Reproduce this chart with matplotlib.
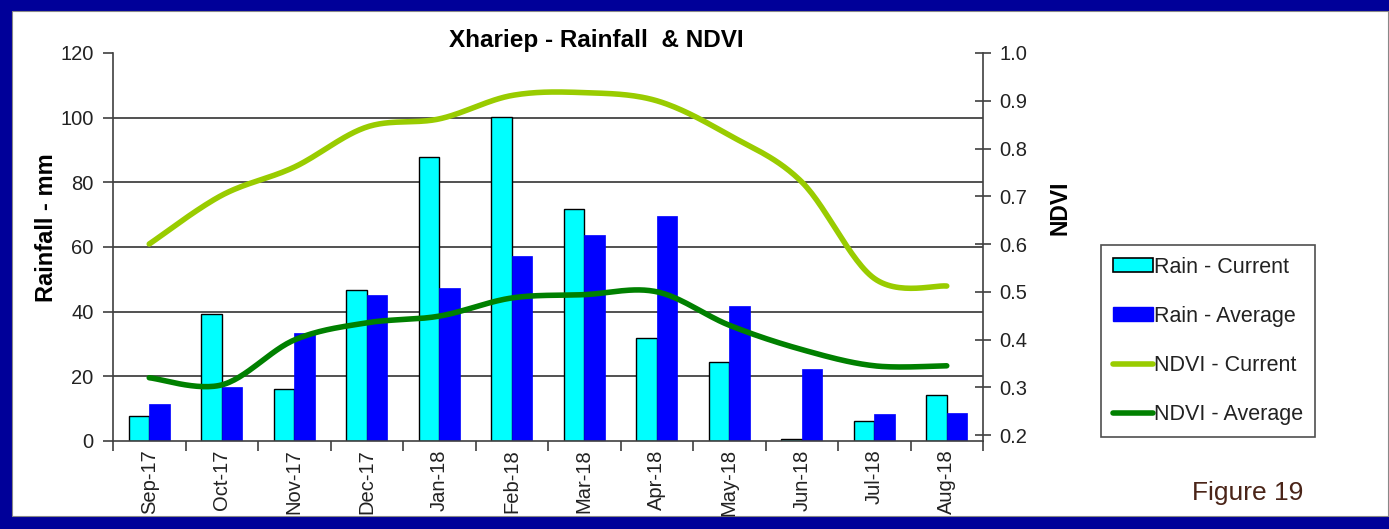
import numpy as np
import matplotlib
matplotlib.use('Agg')
import matplotlib.pyplot as plt
from matplotlib.patches import Rectangle, Patch
from matplotlib.lines import Line2D

plt.rcParams['font.family'] = ['Liberation Sans', 'DejaVu Sans']

# monthly values, Sep 2017 - Aug 2018
months = ['Sep-17', 'Oct-17', 'Nov-17', 'Dec-17', 'Jan-18', 'Feb-18',
          'Mar-18', 'Apr-18', 'May-18', 'Jun-18', 'Jul-18', 'Aug-18']
rain_current = [7.7, 39.4, 16.0, 46.8, 87.8, 100.3, 71.9, 31.8, 24.3, 0.5, 6.2, 14.2]
rain_average = [11.5, 16.7, 33.5, 45.1, 47.4, 57.2, 63.7, 69.6, 41.8, 22.2, 8.2, 8.7]
ndvi_current = [0.600, 0.702, 0.761, 0.845, 0.862, 0.911, 0.917, 0.900, 0.828, 0.730, 0.528, 0.512]
ndvi_average = [0.320, 0.305, 0.399, 0.435, 0.449, 0.487, 0.494, 0.500, 0.430, 0.379, 0.345, 0.345]

NAVY = '#000099'
AXIS = '#404040'
TEXT = '#222222'


def smooth_curve(x, y, steps=30):
    """Bezier smoothing through every point (same idea as a spreadsheet 'smoothed line')."""
    x = np.asarray(x, float)
    y = np.asarray(y, float)
    px = np.concatenate([[x[0]], x, [x[-1]]])
    py = np.concatenate([[y[0]], y, [y[-1]]])
    xs, ys = [], []
    t = np.linspace(0, 1, steps)
    for i in range(1, len(px) - 2):
        p0 = np.array([px[i], py[i]])
        p3 = np.array([px[i + 1], py[i + 1]])
        c1 = p0 + (p3 - np.array([px[i - 1], py[i - 1]])) / 6
        c2 = p3 - (np.array([px[i + 2], py[i + 2]]) - p0) / 6
        seg = ((1 - t) ** 3)[:, None] * p0 + (3 * (1 - t) ** 2 * t)[:, None] * c1 \
            + (3 * (1 - t) * t ** 2)[:, None] * c2 + (t ** 3)[:, None] * p3
        xs.append(seg[:, 0])
        ys.append(seg[:, 1])
    return np.concatenate(xs), np.concatenate(ys)


fig = plt.figure(figsize=(13.89, 5.29), dpi=100, facecolor=NAVY)
# white slide panel inside the navy frame
fig.patches.append(Rectangle((12 / 1389, 13 / 529), 1376 / 1389, 505 / 529,
                             transform=fig.transFigure, facecolor='white',
                             edgecolor='#888888', linewidth=0.8, zorder=-5))

ax = fig.add_axes([113 / 1389, 88 / 529, 870 / 1389, 388 / 529])
ax.set_facecolor('none')
x = np.arange(len(months))
w = 0.285

ax.bar(x - w / 2, rain_current, w, color='#00FFFF', edgecolor='black', linewidth=1.0,
       label='Rain - Current', zorder=2)
ax.bar(x + w / 2, rain_average, w, color='#0000FF', edgecolor='#0000FF', linewidth=0.5,
       label='Rain - Average', zorder=2)

ax.set_xlim(-0.5, len(months) - 0.5)
ax.set_ylim(0, 120)
ax.set_yticks(np.arange(0, 121, 20))
ax.yaxis.grid(True, color='#333333', linewidth=1.2)
ax.set_axisbelow(True)
grid = ax.get_ygridlines()
grid[0].set_visible(False)
grid[-1].set_visible(False)

# category boundaries carry the tick marks, labels sit at the centres
ax.set_xticks(np.arange(-0.5, len(months), 1))
ax.set_xticklabels([])
ax.set_xticks(x, minor=True)
ax.set_xticklabels(months, minor=True, rotation=90, fontsize=14.5, color=TEXT)
ax.tick_params(axis='x', which='major', direction='out', length=7, color=AXIS, width=1.2)
ax.tick_params(axis='x', which='minor', length=0, pad=6)
ax.tick_params(axis='y', direction='out', length=7, color=AXIS, width=1.2,
               labelsize=14.5, labelcolor=TEXT, pad=7)

for side in ['top', 'right']:
    ax.spines[side].set_visible(False)
for side in ['left', 'bottom']:
    ax.spines[side].set_color(AXIS)
    ax.spines[side].set_linewidth(1.2)

ax.set_ylabel('Rainfall - mm', fontsize=17, fontweight='bold', va='center')
ax.yaxis.set_label_coords(-0.076, 0.55)

ax2 = ax.twinx()
xs, ys = smooth_curve(x, ndvi_current)
ax2.plot(xs, ys, color='#99CC00', linewidth=4, solid_capstyle='round', zorder=3)
xs, ys = smooth_curve(x, ndvi_average)
ax2.plot(xs, ys, color='#008000', linewidth=4, solid_capstyle='round', zorder=3)
ax2.set_ylim(0.1875, 1.0)
ax2.set_yticks(np.arange(0.2, 1.01, 0.1))
ax2.set_yticklabels([f'{v:.1f}' for v in np.arange(0.2, 1.01, 0.1)])
ax2.tick_params(axis='y', direction='inout', length=12, color=AXIS, width=1.2,
                labelsize=14.5, labelcolor=TEXT, pad=6)
for side in ['top', 'left', 'bottom']:
    ax2.spines[side].set_visible(False)
ax2.spines['right'].set_color(AXIS)
ax2.spines['right'].set_linewidth(1.2)
ax2.set_ylabel('NDVI', fontsize=16.5, fontweight='bold', va='center', rotation=90)
ax2.yaxis.set_label_coords(1.0885, 0.6)

ax.set_title('Xhariep - Rainfall  & NDVI', x=0.556, pad=4, fontsize=17.5,
             fontweight='bold', color='black')

handles = [
    Patch(facecolor='#00FFFF', edgecolor='black', linewidth=1.2, label='Rain - Current'),
    Patch(facecolor='#0000FF', edgecolor='#0000FF', label='Rain - Average'),
    Line2D([], [], color='#99CC00', linewidth=4, solid_capstyle='round', label='NDVI - Current'),
    Line2D([], [], color='#008000', linewidth=4, solid_capstyle='round', label='NDVI - Average'),
]
leg = fig.legend(handles=handles, loc='upper left', bbox_to_anchor=(1101 / 1389, 284 / 529),
                 bbox_transform=fig.transFigure, fontsize=15.5, frameon=True, fancybox=False,
                 edgecolor='#222222', handlelength=1.85, handleheight=0.6, handletextpad=0.05,
                 labelspacing=1.3, borderpad=0.55, borderaxespad=0)
leg.get_frame().set_linewidth(1.2)
for t in leg.get_texts():
    t.set_color(TEXT)

fig.text(1248 / 1389, 36 / 529, 'Figure 19', fontsize=19, color='#4a2418',
         ha='center', va='center')

fig.savefig('out.png', dpi=100, facecolor=NAVY)
